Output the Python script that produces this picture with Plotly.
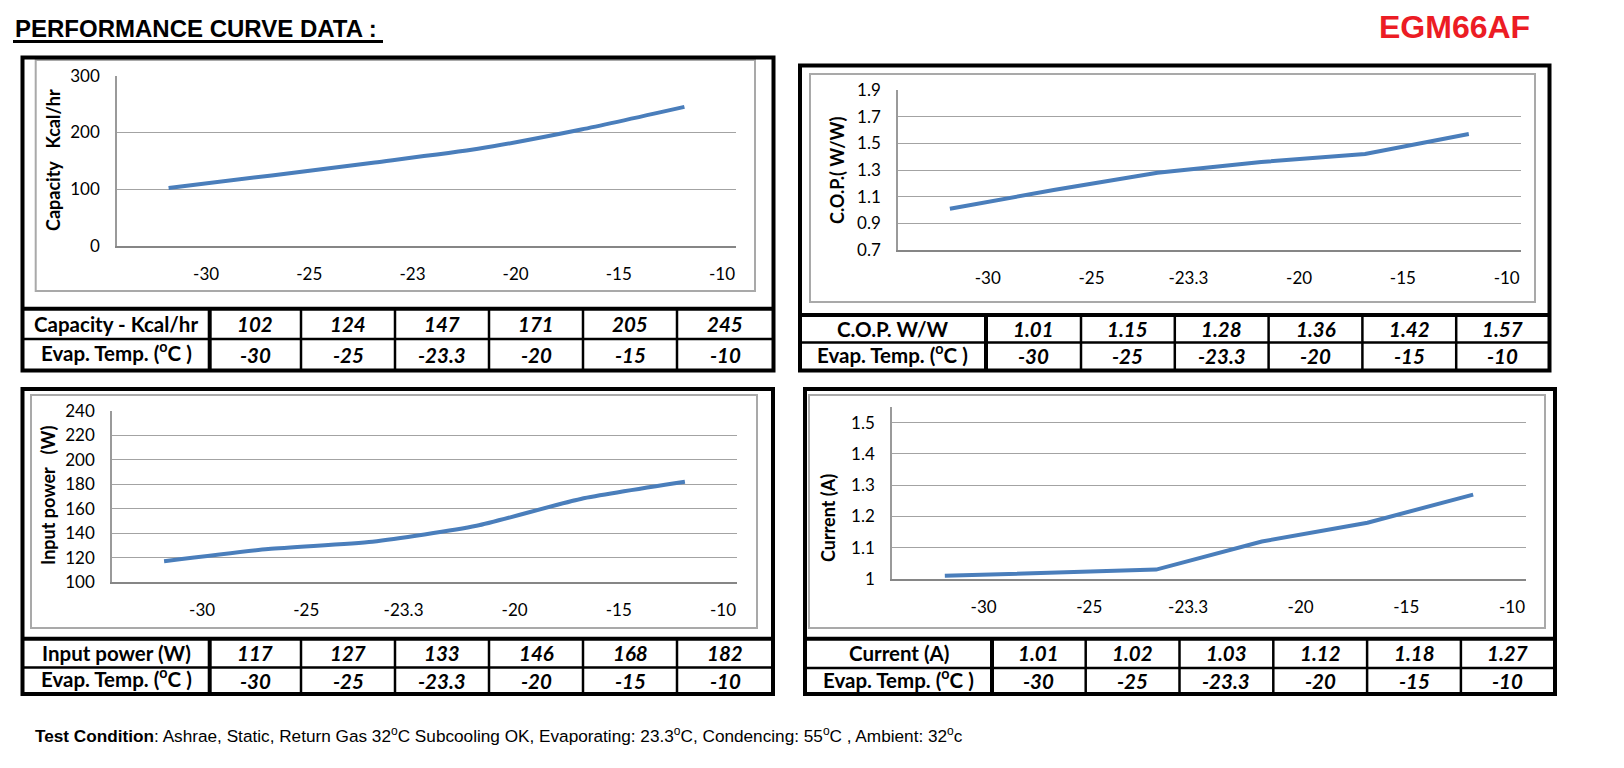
import plotly.graph_objects as go

# ---------------- data ----------------
evap_temps = ["-30", "-25", "-23.3", "-20", "-15", "-10"]
capacity = [102, 124, 147, 171, 205, 245]
cop = [1.01, 1.15, 1.28, 1.36, 1.42, 1.57]
input_power = [117, 127, 133, 146, 168, 182]
current = [1.01, 1.02, 1.03, 1.12, 1.18, 1.27]

ticks_capacity = ["-30", "-25", "-23", "-20", "-15", "-10"]
ticks_other = ["-30", "-25", "-23.3", "-20", "-15", "-10"]

cap_label = "Capacity - Kcal/hr"
cop_label = "C.O.P. W/W"
pow_label = "Input power (W)"
cur_label = "Current (A)"
evap_label = "Evap. Temp. (<sup>o</sup>C )"

NB = "\u00a0"
W, H = 1624, 768


def fx(x):
    return x / W


def fy(y):
    return 1 - y / H


CAL = "Lato, Carlito, Calibri, sans-serif"
ARIAL = "Liberation Sans, Arial, sans-serif"
LINE_COLOR = "#4a7ebb"

panels = [
    dict(vals=capacity, fmt="{:d}", ticks=ticks_capacity, row_label=cap_label,
         ytitle="Capacity" + NB * 3 + "Kcal/hr", yr=[0, 300], dtick=100, tick0=0, shape="spline",
         plot=(117, 736, 75.7, 245.7), box=(22.5, 773.5, 57.5, 370.5), frame=(35.7, 755, 60, 291),
         rows=(308.7, 339, 370.5), cols=(209.7, 301, 94), ytc=(53, 160)),
    dict(vals=cop, fmt="{:.2f}", ticks=ticks_other, row_label=cop_label,
         ytitle="C.O.P.(" + NB + "W/W)", yr=[0.7, 1.9], dtick=0.2, tick0=0.7, shape="linear",
         plot=(898, 1520.7, 90, 250), box=(800, 1549.5, 65.5, 370.5), frame=(810, 1535, 74, 302),
         rows=(315, 342.5, 370.5), cols=(986, 1081, 93.8), ytc=(837, 170)),
    dict(vals=input_power, fmt="{:d}", ticks=ticks_other, row_label=pow_label,
         ytitle="Input power" + NB * 3 + "(W)", yr=[100, 240], dtick=20, tick0=100, shape="spline",
         plot=(112, 737, 411, 582), box=(22.5, 773, 389, 694), frame=(31, 757, 395, 628),
         rows=(638.7, 667.5, 694), cols=(209.7, 301, 94), ytc=(48, 496)),
    dict(vals=current, fmt="{:.2f}", ticks=ticks_other, row_label=cur_label,
         ytitle="Current (A)", yr=[1, 1.55], dtick=0.1, tick0=1, shape="linear",
         plot=(892, 1526, 407, 579), box=(805, 1555, 389, 694), frame=(809, 1545, 395, 628),
         rows=(638.7, 668, 694), cols=(992, 1085.7, 93.8), ytc=(828, 518)),
]

fig = go.Figure()
shapes = []
annotations = []
layout_axes = {}


def hline(x0, x1, y, w, color="black"):
    shapes.append(dict(type="line", xref="paper", yref="paper", x0=fx(x0), x1=fx(x1),
                       y0=fy(y), y1=fy(y), line=dict(color=color, width=w), layer="above"))


def vline(x, y0, y1, w, color="black"):
    shapes.append(dict(type="line", xref="paper", yref="paper", x0=fx(x), x1=fx(x),
                       y0=fy(y0), y1=fy(y1), line=dict(color=color, width=w), layer="above"))


def text(x, y, s, size, family=CAL, xanchor="center", color="black", angle=0):
    annotations.append(dict(xref="paper", yref="paper", x=fx(x), y=fy(y), text=s,
                            showarrow=False, xanchor=xanchor, yanchor="middle", textangle=angle,
                            font=dict(family=family, size=size, color=color)))


for i, p in enumerate(panels, start=1):
    n = len(p["vals"])
    xs = list(range(n))
    sfx = "" if i == 1 else str(i)
    fig.add_trace(go.Scatter(
        x=xs, y=p["vals"], mode="lines",
        line=dict(color=LINE_COLOR, width=4, shape=p["shape"], smoothing=0.6),
        xaxis="x" + sfx, yaxis="y" + sfx, hoverinfo="skip", showlegend=False))

    x0, x1, y0, y1 = p["plot"]
    layout_axes["xaxis" + sfx] = dict(
        domain=[fx(x0), fx(x1)], anchor="y" + sfx, range=[-0.5, n - 0.5],
        tickmode="array", tickvals=[k + 0.5 for k in xs], ticktext=p["ticks"],
        ticklabelposition="outside left", ticks="", showgrid=False, zeroline=False,
        showline=True, linecolor="#868686", linewidth=2,
        tickfont=dict(family=CAL, size=17, color="black"), ticklabelstandoff=12)
    layout_axes["yaxis" + sfx] = dict(
        domain=[fy(y1), fy(y0)], anchor="x" + sfx, range=p["yr"],
        tickmode="linear", tick0=p["tick0"], dtick=p["dtick"], ticks="",
        showgrid=True, gridcolor="#a3a3a3", gridwidth=1.3, zeroline=False,
        showline=True, linecolor="#9a9a9a", linewidth=1.5,
        tickfont=dict(family=CAL, size=17, color="black"), ticklabelstandoff=12)

    bx0, bx1, by0, by1 = p["box"]
    fr0, fr1, fr2, fr3 = p["frame"]
    shapes.append(dict(type="rect", xref="paper", yref="paper",
                       x0=fx(fr0), x1=fx(fr1), y0=fy(fr3), y1=fy(fr2),
                       line=dict(color="#a9a9a9", width=2), layer="below"))
    shapes.append(dict(type="rect", xref="paper", yref="paper",
                       x0=fx(bx0), x1=fx(bx1), y0=fy(by1), y1=fy(by0),
                       line=dict(color="black", width=4), layer="above"))

    # ---- data table (two rows) ----
    rtop, rsep, rbot = p["rows"]
    first_edge, second_edge, step = p["cols"]
    edges = [bx0, first_edge] + [second_edge + step * k for k in range(n - 1)] + [bx1]
    hline(bx0, bx1, rtop, 4)
    hline(bx0, bx1, rsep, 2.5)
    for k, e in enumerate(edges[1:-1]):
        vline(e, rtop, rbot, 4 if k == 0 else 2.5)
    row1 = ["<b>" + p["row_label"] + "</b>"] + ["<b><i>" + p["fmt"].format(v) + "</i></b>" for v in p["vals"]]
    row2 = ["<b>" + evap_label + "</b>"] + ["<b><i>" + t + "</i></b>" for t in evap_temps]
    for j in range(n + 1):
        cx = (edges[j] + edges[j + 1]) / 2
        text(cx, (rtop + rsep) / 2, row1[j], 20.5)
        text(cx, (rsep + rbot) / 2 - (3 if j == 0 else 0), row2[j], 20.5)

    cx, cy = p["ytc"]
    text(cx, cy, "<b>" + p["ytitle"] + "</b>", 18, angle=-90)

# title & header texts
text(13, 29, "<b>PERFORMANCE CURVE DATA :</b>", 24, family=ARIAL, xanchor="left")
hline(13, 383, 41.5, 3)
text(1377, 27, "<b>EGM66AF</b>", 32, family=ARIAL, xanchor="left", color="#ec1c24")
text(33, 735, "<b>Test Condition</b>: Ashrae, Static, Return Gas 32<sup>o</sup>C Subcooling OK, "
     "Evaporating: 23.3<sup>o</sup>C, Condencing: 55<sup>o</sup>C , Ambient: 32<sup>o</sup>c",
     17.2, family=ARIAL, xanchor="left")

fig.update_layout(
    width=W, height=H, margin=dict(l=0, r=0, t=0, b=0, pad=0, autoexpand=False),
    paper_bgcolor="white", plot_bgcolor="white", showlegend=False,
    font=dict(family=CAL, size=17, color="black"),
    shapes=shapes, annotations=annotations, **layout_axes)

fig.write_html("out.html", config={"displayModeBar": False},
               post_script="document.body.style.margin='0';document.body.style.overflow='hidden';")
